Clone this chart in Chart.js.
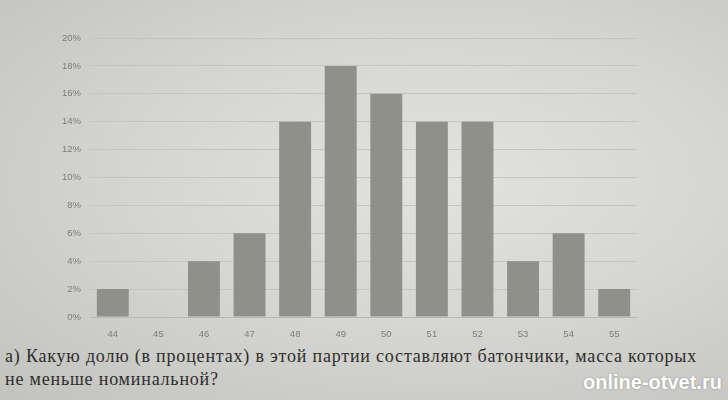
<!DOCTYPE html>
<html>
<head>
<meta charset="utf-8">
<script src="https://cdn.jsdelivr.net/npm/chart.js@4/dist/chart.umd.min.js"></script>
<style>
  html, body { margin: 0; padding: 0; }
  body {
    width: 728px; height: 400px; overflow: hidden; position: relative;
    background:
      radial-gradient(ellipse at 60% 45%, #e2e2de 0%, #d6d6d2 45%, #c2c2be 100%);
  }
  #chart { position: absolute; left: 0; top: 0; }
  #question {
    position: absolute; left: 5px; top: 345px; width: 723px;
    font-family: "Liberation Serif", "DejaVu Serif", serif;
    font-size: 18px; letter-spacing: 0.8px; line-height: 23px; color: #2f2f2f;
    white-space: nowrap;
  }
  #mark {
    position: absolute; left: 583px; top: 371px;
    font-family: "Liberation Sans", Arial, sans-serif;
    font-size: 20px; font-weight: bold; color: #ffffff;
    text-shadow: 0 0 2px rgba(0,0,0,0.35);
  }
</style>
</head>
<body>
<canvas id="chart" width="728" height="345"></canvas>
<div id="question">а) Какую долю (в процентах) в этой партии составляют батончики, масса которых<br>не меньше номинальной?</div>
<div id="mark">online-otvet.ru</div>

<script>
// масса батончика, г
const masses = ["44", "45", "46", "47", "48", "49", "50", "51", "52", "53", "54", "55"];
// доля батончиков, %
const shares = [2, 0, 4, 6, 14, 18, 16, 14, 14, 4, 6, 2];
const yTicks = [0, 2, 4, 6, 8, 10, 12, 14, 16, 18, 20];

const tickFont = { family: "'Liberation Sans', Arial, sans-serif", size: 9.5 };

new Chart(document.getElementById("chart").getContext("2d"), {
  type: "bar",
  data: {
    labels: masses,
    datasets: [{
      data: shares,
      backgroundColor: "#90908b",
      borderWidth: 0,
      categoryPercentage: 1,
      barPercentage: 0.7
    }]
  },
  options: {
    responsive: false,
    animation: false,
    layout: { padding: { left: 50, right: 91, top: 38, bottom: 0 } },
    plugins: { legend: { display: false }, tooltip: { enabled: false } },
    scales: {
      x: {
        grid: { display: false, drawTicks: false },
        border: { display: true, color: "#b8b8b4" },
        ticks: { color: "#7c7c78", font: tickFont, padding: 12 },
        afterFit: s => { s.height = 28; }
      },
      y: {
        min: 0, max: 20,
        afterBuildTicks: s => { s.ticks = yTicks.map(v => ({ value: v })); },
        grid: { color: "#c4c4c0", drawTicks: false },
        border: { display: false },
        ticks: { color: "#7c7c78", font: tickFont, padding: 9, callback: v => v + "%" },
        afterFit: s => { s.width = 40; }
      }
    }
  }
});
</script>
</body>
</html>
